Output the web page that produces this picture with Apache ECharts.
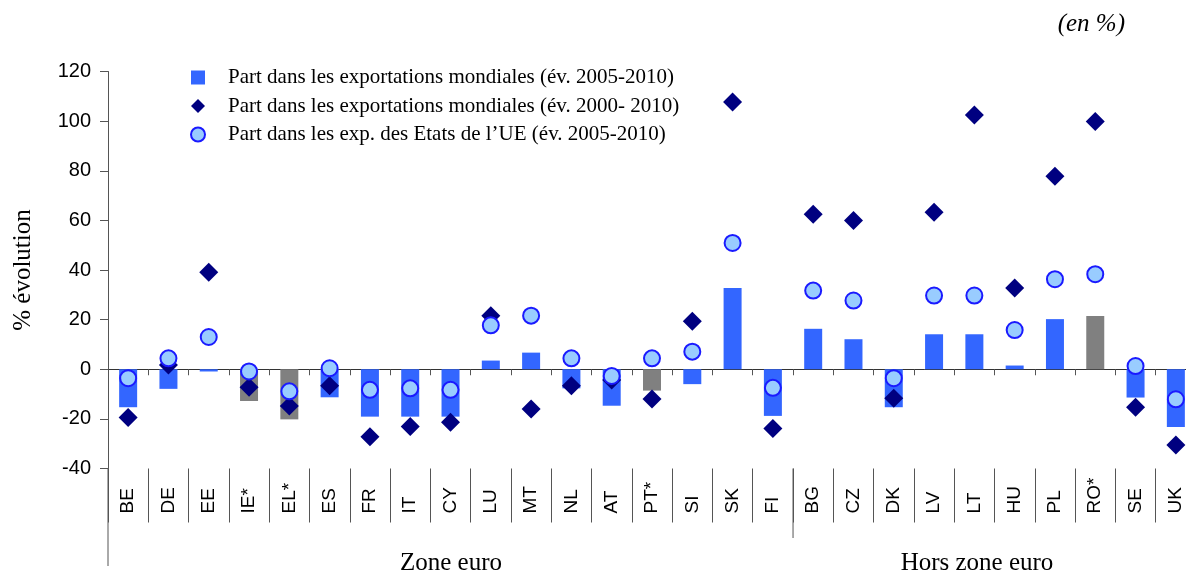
<!DOCTYPE html>
<html>
<head>
<meta charset="utf-8">
<script src="https://cdn.jsdelivr.net/npm/echarts@6/dist/echarts.min.js"></script>
<style>html,body{margin:0;padding:0;background:#fff;overflow:hidden;width:1186px;height:574px;}#c{width:1200px;height:574px;}</style>
</head>
<body>
<div id="c"></div>
<script>
const categories = ['BE','DE','EE','IE*','EL*','ES','FR','IT','CY','LU','MT','NL','AT','PT*','SI','SK','FI','BG','CZ','DK','LV','LT','HU','PL','RO*','SE','UK'];
const world0510 = [-15.3,-7.9,-0.9,-12.8,-20.2,-11.3,-19.1,-19.1,-19.1,3.5,6.7,-7.7,-14.7,-8.6,-6.0,32.7,-18.8,16.3,12.1,-15.3,14.1,14.1,1.5,20.2,21.5,-11.4,-23.3];
const world0010 = [-19.4,1.7,39.1,-7.3,-14.8,-6.6,-27.2,-23.1,-21.4,21.6,-16.0,-6.6,-4.3,-12.0,19.3,107.7,-23.9,62.5,59.9,-11.7,63.3,102.5,32.7,77.8,99.8,-15.3,-30.5];
const eu0510 = [-3.6,4.4,13.0,-0.9,-8.9,0.4,-8.3,-7.7,-8.3,17.7,21.6,4.4,-2.7,4.4,7.1,50.9,-7.5,31.7,27.7,-3.6,29.7,29.7,15.8,36.3,38.3,1.3,-12.1];
const seriesNames = ['Part dans les exportations mondiales (év. 2005-2010)','Part dans les exportations mondiales (év. 2000- 2010)','Part dans les exp. des Etats de l\u2019UE (év. 2005-2010)'];
const groupLabels = ['Zone euro','Hors zone euro'];
const yTicks = {min:-40, max:120, interval:20};

const BLUE = '#3366FF', GRAY = '#808080', NAVY = '#000080', LIGHT = '#99CCFF', RING = '#1a1aff';
const SERIF = '"Liberation Serif","DejaVu Serif",serif';
const SANS = '"Liberation Sans",Arial,sans-serif';
const GL = 108, GT = 71.5, GW = 1088, GH = 397;
const catW = GW / categories.length;

const chart = echarts.init(document.getElementById('c'));
chart.setOption({
  animation: false,
  backgroundColor: '#fff',
  grid: {left: GL, top: GT, width: GW, height: GH, containLabel: false},
  legend: {
    orient: 'vertical', left: 190, top: 67, padding: 0, itemGap: 7.5,
    itemWidth: 50, itemHeight: 14,
    textStyle: {fontFamily: SERIF, fontSize: 21, color: '#000', lineHeight: 21},
    data: [
      {name: seriesNames[0], icon: 'path://M0,0H1V1H0Z', itemStyle: {color: BLUE}},
      {name: seriesNames[1], icon: 'path://M0,-1L1,0L0,1L-1,0Z', itemStyle: {color: NAVY}},
      {name: seriesNames[2], icon: 'circle', itemStyle: {color: LIGHT, borderColor: RING, borderWidth: 2}}
    ]
  },
  xAxis: [
    {type: 'category', data: categories, position: 'bottom',
     axisLine: {onZero: true, lineStyle: {color: '#333', width: 1}},
     axisTick: {show: true, length: 6, lineStyle: {color: '#555'}},
     axisLabel: {show: false}, splitLine: {show: false}},
    {type: 'category', data: categories, position: 'bottom',
     axisLine: {show: false, onZero: false},
     axisTick: {show: true, length: 54, lineStyle: {color: '#555'}},
     axisLabel: {rotate: 90, align: 'left', margin: 45, fontFamily: SANS, fontSize: 19, color: '#000', interval: 0},
     splitLine: {show: false}}
  ],
  yAxis: {
    type: 'value', min: yTicks.min, max: yTicks.max, interval: yTicks.interval,
    name: '% évolution', nameLocation: 'middle', nameRotate: 90, nameGap: 72,
    nameTextStyle: {fontFamily: SERIF, fontSize: 25, color: '#000'},
    axisLine: {show: true, lineStyle: {color: '#555'}},
    axisTick: {show: true, length: 8, lineStyle: {color: '#555'}},
    axisLabel: {fontFamily: SANS, fontSize: 20, color: '#000', margin: 17},
    splitLine: {show: false}
  },
  series: [
    {name: seriesNames[0], type: 'bar', barWidth: 18, xAxisIndex: 0,
     itemStyle: {color: BLUE},
     data: world0510.map((v, i) => ({value: v, itemStyle: {color: categories[i].indexOf('*') >= 0 ? GRAY : BLUE}}))},
    {name: seriesNames[1], type: 'scatter', xAxisIndex: 0, symbol: 'diamond', symbolSize: 19,
     itemStyle: {color: NAVY, opacity: 1}, data: world0010},
    {name: seriesNames[2], type: 'scatter', xAxisIndex: 0, symbol: 'circle', symbolSize: 16,
     itemStyle: {color: LIGHT, borderColor: RING, borderWidth: 2, opacity: 1}, data: eu0510}
  ],
  graphic: [
    {type: 'line', shape: {x1: GL, y1: GT + GH, x2: GL, y2: 566}, style: {stroke: '#555', lineWidth: 1}},
    {type: 'line', shape: {x1: GL + 17 * catW, y1: GT + GH, x2: GL + 17 * catW, y2: 538}, style: {stroke: '#555', lineWidth: 1}},
    {type: 'text', x: 451, y: 563, style: {text: groupLabels[0], font: '25px ' + SERIF, fill: '#000', textAlign: 'center', textVerticalAlign: 'middle'}},
    {type: 'text', x: 977, y: 563, style: {text: groupLabels[1], font: '25px ' + SERIF, fill: '#000', textAlign: 'center', textVerticalAlign: 'middle'}},
    {type: 'text', x: 1125, y: 24, style: {text: '(en %)', font: 'italic 25px ' + SERIF, fill: '#000', textAlign: 'right', textVerticalAlign: 'middle'}}
  ]
});
</script>
</body>
</html>
